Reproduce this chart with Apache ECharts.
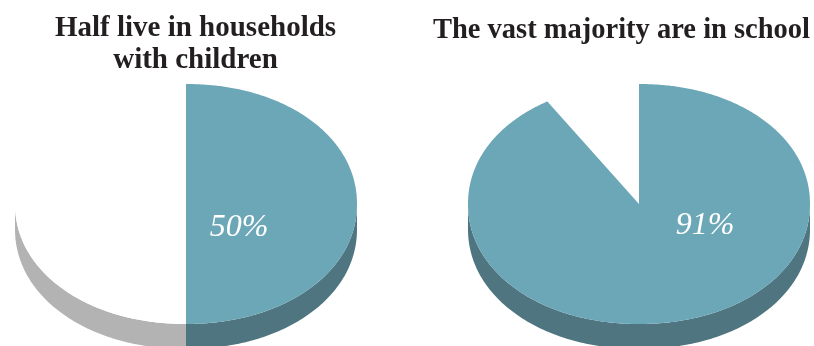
<!DOCTYPE html>
<html>
<head>
<meta charset="utf-8">
<style>html,body{margin:0;padding:0;background:#fff}#chart{width:814px;height:346px}</style>
<script src="https://cdn.jsdelivr.net/npm/echarts@6/dist/echarts.min.js"></script>
</head>
<body>
<div id="chart"></div>
<script>
// Share of people in each group, in percent
const pieTitles = ['Half live in households\nwith children', 'The vast majority are in school'];
const householdShares = [50, 50];
const schoolShares = [91, 9];

const TEAL = '#6ca7b7', TEAL_SIDE = '#4e7580', GREY_SIDE = '#b3b3b3';
const RX = 171, RY = 120, DEPTH = 25, ROUNDNESS = 2.06;

// Tilted disc: angles run clockwise from twelve o'clock.
// ROUNDNESS just above 2 fills out the flanks a little beyond a true ellipse.
function rimPoint(cx, cy, deg, drop) {
  const a = deg * Math.PI / 180, s = Math.sin(a), c = Math.cos(a);
  const rest = Math.max(0, 1 - Math.pow(Math.abs(s), ROUNDNESS));
  const v = Math.sign(c) * Math.pow(rest, 1 / ROUNDNESS);
  return [cx + RX * s, cy - RY * v + drop];
}

function sliceRender(cx, cy, labelDx, labelDy, palette) {
  return function (params, api) {
    const value = api.value(0), before = api.value(1);
    const start = before * 3.6, end = (before + value) * 3.6;
    const style = palette[params.dataIndex];
    const children = [];

    // Outer wall: only the part of the rim facing the viewer
    const from = Math.max(start, 90), to = Math.min(end, 270);
    if (style.side && to > from) {
      const wall = [];
      for (let d = from; d <= to; d += 1) wall.push(rimPoint(cx, cy, d, 0));
      for (let d = to; d >= from; d -= 1) wall.push(rimPoint(cx, cy, d, DEPTH));
      children.push({ type: 'polygon', shape: { points: wall }, style: { fill: style.side }, z2: 1 });
    }

    // Top face
    if (style.top) {
      const face = [[cx, cy]];
      for (let d = start; d < end; d += 0.5) face.push(rimPoint(cx, cy, d, 0));
      face.push(rimPoint(cx, cy, end, 0));
      children.push({ type: 'polygon', shape: { points: face }, style: { fill: style.top }, z2: 2 });
    }

    if (style.label) {
      children.push({
        type: 'text', z2: 3,
        style: {
          x: cx + labelDx, y: cy + labelDy, text: value + '%',
          fill: '#ffffff', align: 'center', verticalAlign: 'middle',
          font: 'italic 32px "Liberation Serif"'
        }
      });
    }
    return { type: 'group', children };
  };
}

function rows(shares) {
  let running = 0;
  return shares.map(v => { const r = [v, running]; running += v; return r; });
}

const chart = echarts.init(document.getElementById('chart'), null, { renderer: 'canvas' });
const titleStyle = {
  color: '#231f20', fontFamily: 'Liberation Serif', fontWeight: 'bold',
  fontSize: 29, lineHeight: 32
};
chart.setOption({
  animation: false,
  backgroundColor: '#ffffff',
  title: [
    { text: pieTitles[0], left: 195.5, top: 13, textAlign: 'center', padding: 0, textStyle: titleStyle },
    { text: pieTitles[1], left: 621.5, top: 15, textAlign: 'center', padding: 0,
      textStyle: Object.assign({}, titleStyle, { fontSize: 28.5 }) }
  ],
  series: [
    {
      type: 'custom', coordinateSystem: 'none', clip: false,
      data: rows(householdShares),
      renderItem: sliceRender(186, 204, 53, 24, [
        { top: TEAL, side: TEAL_SIDE, label: true },
        { top: '#ffffff', side: GREY_SIDE }
      ])
    },
    {
      type: 'custom', coordinateSystem: 'none', clip: false,
      data: rows(schoolShares),
      renderItem: sliceRender(639, 204, 66, 22, [
        { top: TEAL, side: TEAL_SIDE, label: true },
        { top: null, side: null }
      ])
    }
  ]
});
</script>
</body>
</html>
